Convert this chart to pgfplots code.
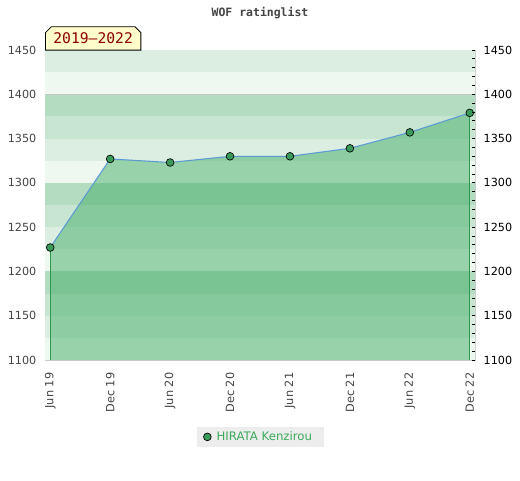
\documentclass[border=0pt]{standalone}
\usepackage{pgfplots}
\pgfplotsset{compat=1.18}
\usepackage{fontspec}
\setmainfont{DejaVu Sans}
\newfontfamily\monof{DejaVu Sans Mono}
\usetikzlibrary{shapes.misc}
\definecolor{bandA}{HTML}{DBEEE1}
\definecolor{bandB}{HTML}{EFF7F1}
\definecolor{bandC}{HTML}{B3DCC1}
\definecolor{bandD}{HTML}{C8E5D2}
\definecolor{areafill}{RGB}{67,174,103}
\definecolor{linecol}{HTML}{5B9BD5}
\definecolor{markcol}{HTML}{3A9A5A}
\definecolor{vgreen}{HTML}{2E9A4E}
\definecolor{legtext}{HTML}{3AAA5A}
\definecolor{labgray}{HTML}{444444}
\definecolor{framegray}{HTML}{CCCCCC}
\begin{document}
\begin{tikzpicture}
\path[use as bounding box] (0pt,0pt) rectangle (390pt,360pt);
\node[font=\monof\bfseries\fontsize{8.6}{10}\selectfont, text=labgray] at (195pt,350.25pt) {WOF ratinglist};
\begin{axis}[
  at={(33.75pt,90pt)}, anchor=south west,
  width=322.5pt, height=232.5pt, scale only axis,
  xmin=-0.0877, xmax=7.0877,
  ymin=1100, ymax=1450,
  axis line style={framegray},
  xtick={0,1,2,3,4,5,6,7},
  xticklabels={Jun 19,Dec 19,Jun 20,Dec 20,Jun 21,Dec 21,Jun 22,Dec 22},
  xticklabel style={rotate=90, anchor=east, font=\fontsize{8.5}{9}\selectfont, text=labgray},
  xticklabel shift=6pt,
  ytick={1100,1150,...,1450},
  yticklabel style={font=\fontsize{8.4}{10}\selectfont, text=labgray},
  yticklabel shift=3pt,
  /pgf/number format/assume math mode=true,
  /pgf/number format/1000 sep={},
  major tick length=0pt,
  tick style={draw=none},
  legend style={at={(0.501,-0.248)}, anchor=center, fill=black!7, draw=none,
    font=\fontsize{8.8}{10}\selectfont, text=legtext, inner xsep=5pt, inner ysep=1.5pt,
    nodes={inner xsep=4pt}},
  legend cell align=left,
]
\fill[bandA] (axis cs:-1,1425) rectangle (axis cs:8,1450);
\fill[bandB] (axis cs:-1,1400) rectangle (axis cs:8,1425);
\fill[bandC] (axis cs:-1,1375) rectangle (axis cs:8,1400);
\fill[bandD] (axis cs:-1,1350) rectangle (axis cs:8,1375);
\fill[bandA] (axis cs:-1,1325) rectangle (axis cs:8,1350);
\fill[bandB] (axis cs:-1,1300) rectangle (axis cs:8,1325);
\fill[bandC] (axis cs:-1,1275) rectangle (axis cs:8,1300);
\fill[bandD] (axis cs:-1,1250) rectangle (axis cs:8,1275);
\fill[bandA] (axis cs:-1,1225) rectangle (axis cs:8,1250);
\fill[bandB] (axis cs:-1,1200) rectangle (axis cs:8,1225);
\fill[bandC] (axis cs:-1,1175) rectangle (axis cs:8,1200);
\fill[bandD] (axis cs:-1,1150) rectangle (axis cs:8,1175);
\fill[bandA] (axis cs:-1,1125) rectangle (axis cs:8,1150);
\fill[bandB] (axis cs:-1,1100) rectangle (axis cs:8,1125);
\draw[black!22] (axis cs:-1,1400) -- (axis cs:8,1400);
\addplot[draw=none, fill=areafill, fill opacity=0.5, forget plot]
  coordinates {(0,1227) (1,1327) (2,1323) (3,1330) (4,1330) (5,1339) (6,1357) (7,1379)} \closedcycle;
\addplot[ycomb, vgreen, line width=0.6pt, forget plot] coordinates {(0,1227) (7,1379)};
\addplot[linecol, line width=0.8pt, forget plot]
  coordinates {(0,1227) (1,1327) (2,1323) (3,1330) (4,1330) (5,1339) (6,1357) (7,1379)};
\addplot[only marks, mark=*, mark size=2.9pt, mark options={fill=markcol, draw=black, line width=0.5pt}]
  coordinates {(0,1227) (1,1327) (2,1323) (3,1330) (4,1330) (5,1339) (6,1357) (7,1379)};
\addlegendentry{HIRATA Kenzirou}
\end{axis}
\begin{axis}[
  at={(33.75pt,90pt)}, anchor=south west,
  width=322.5pt, height=232.5pt, scale only axis,
  xmin=-0.0877, xmax=7.0877,
  ymin=1100, ymax=1450,
  axis y line*=right, axis x line=none,
  axis line style={draw=none},
  ytick={1100,1150,...,1450},
  minor ytick={1100,1110,...,1450},
  tick align=inside,
  major tick length=2.5pt, minor tick length=2.5pt,
  tick style={black, line width=0.6pt},
  yticklabel style={font=\fontsize{8.4}{10}\selectfont, text=black},
  yticklabel shift=3pt,
  /pgf/number format/assume math mode=true,
  /pgf/number format/1000 sep={},
]
\addplot[draw=none] coordinates {(0,1100)};
\end{axis}
\node[chamfered rectangle, chamfered rectangle corners={north west,north east},
  chamfered rectangle xsep=2.25pt, chamfered rectangle ysep=2.25pt, draw=black, line width=0.6pt, fill=yellow!20,
  minimum width=71.6pt, minimum height=17.6pt, inner sep=0pt, anchor=south west,
  font=\monof\fontsize{11}{12}\selectfont, text={rgb,255:red,140;green,0;blue,0}] at (33.75pt,322.1pt) {2019–2022};
\end{tikzpicture}
\end{document}
